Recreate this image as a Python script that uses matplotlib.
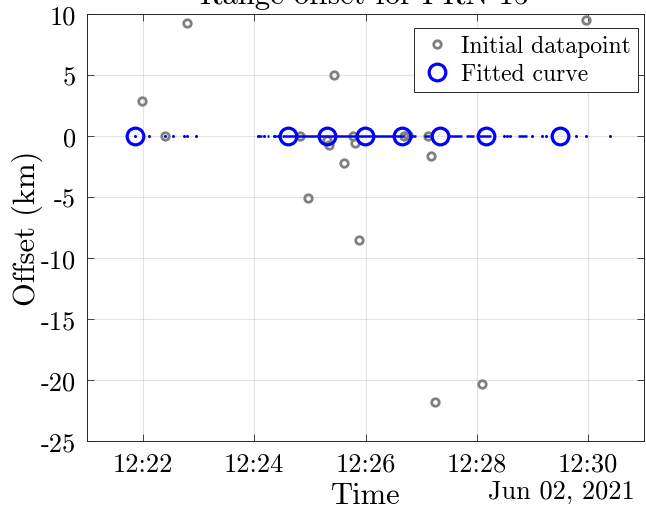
import matplotlib
matplotlib.use("Agg")
import matplotlib.pyplot as plt
import matplotlib.dates as mdates
from datetime import datetime

DAY = "2021-06-02 "

def ts(s):
    return datetime.strptime(DAY + s, "%Y-%m-%d %H:%M:%S")

# initial datapoints (time, offset km)
init_times = ["12:21:59", "12:22:24", "12:22:48", "12:24:49", "12:24:58",
              "12:25:18", "12:25:21", "12:25:26", "12:25:37", "12:25:47",
              "12:25:49", "12:25:53", "12:26:42", "12:26:46", "12:27:07",
              "12:27:11", "12:27:15", "12:28:06", "12:29:57"]
init_offset = [2.9, 0.0, 9.3, 0.0, -5.1,
               -0.3, -0.7, 5.0, -2.2, 0.0,
               -0.6, -8.5, 0.0, 0.05, 0.0,
               -1.6, -21.8, -20.3, 9.5]

# fitted curve: continuous stretches, isolated samples and highlighted samples
fit_segments = [("12:24:04", "12:24:08"), ("12:24:14", "12:24:16"),
                ("12:24:30", "12:26:41"), ("12:26:47", "12:26:54"),
                ("12:27:03", "12:27:10"), ("12:27:30", "12:27:44"),
                ("12:27:48", "12:27:57"), ("12:28:02", "12:28:15"),
                ("12:28:44", "12:28:54")]
fit_dots = ["12:21:52", "12:22:07", "12:22:24", "12:22:33", "12:22:45",
            "12:22:48", "12:22:57", "12:24:04", "12:24:11", "12:24:21",
            "12:24:23", "12:24:26", "12:28:29", "12:28:32", "12:28:36",
            "12:28:59", "12:29:10", "12:29:14", "12:29:47", "12:29:58",
            "12:30:23"]
fit_marks = ["12:21:52", "12:24:36", "12:25:19", "12:25:59", "12:26:39",
             "12:27:20", "12:28:10", "12:29:30"]
fit_value = 0.0

plt.rcParams['font.family'] = ['cmr10', 'DejaVu Serif']
plt.rcParams['axes.unicode_minus'] = False
plt.rcParams['mathtext.fontset'] = 'cm'

fig = plt.figure(figsize=(6.46, 5.10), dpi=100)
ax = fig.add_axes([0.1347, 0.1333, 0.9969 - 0.1347, 0.9706 - 0.1333])

blue = '#0000ff'
gray = '#808080'

ax.plot([ts(t) for t in init_times], init_offset, linestyle='none',
        marker='o', ms=5.4, mfc='none', mec=gray, mew=2.0,
        label='Initial datapoint', zorder=3)

for a, b in fit_segments:
    ax.plot([ts(a), ts(b)], [fit_value, fit_value], color=blue, lw=1.8,
            solid_capstyle='butt', zorder=4)
ax.plot([ts(t) for t in fit_dots], [fit_value] * len(fit_dots),
        linestyle='none', marker='o', ms=2.2, color=blue, mew=0, zorder=4)
ax.plot([ts(t) for t in fit_marks], [fit_value] * len(fit_marks),
        linestyle='none', marker='o', ms=12, mfc='none', mec=blue,
        mew=2.3, label='Fitted curve', zorder=5)

ax.set_xlim(ts("12:21:00"), ts("12:31:00"))
ax.set_ylim(-25, 10)
ax.set_yticks(range(-25, 11, 5))
ax.xaxis.set_major_locator(mdates.MinuteLocator(byminute=range(0, 60, 2)))
ax.xaxis.set_major_formatter(mdates.DateFormatter('%H:%M'))

ax.grid(True, color='#262626', alpha=0.12, lw=0.8)
ax.set_axisbelow(True)
ax.tick_params(direction='in', top=True, right=True, length=5,
               width=0.6, color='#262626', labelsize=19, pad=8)
for sp in ax.spines.values():
    sp.set_color('#262626')
    sp.set_linewidth(0.7)

ax.set_xlabel('Time', fontsize=22, labelpad=4)
ax.set_ylabel('Offset (km)', fontsize=22, labelpad=-2)
fig.text(0.982, 0.012, 'Jun 02, 2021', fontsize=19, ha='right', va='bottom')

leg = ax.legend(loc='upper right', bbox_to_anchor=(0.989, 0.967),
                fontsize=17, frameon=True, fancybox=False,
                edgecolor='#262626', framealpha=1, borderaxespad=0,
                handletextpad=0.3, handlelength=1.4, borderpad=0.3,
                labelspacing=0.25)
leg.get_frame().set_linewidth(0.7)

# title sits mostly above the visible area (cropped, as in the source figure)
fig.text(0.565, 1.0 - 4 / 510, 'Range offset for PRN 15', fontsize=22,
         ha='center', va='baseline')

fig.savefig('out.png', dpi=100)
